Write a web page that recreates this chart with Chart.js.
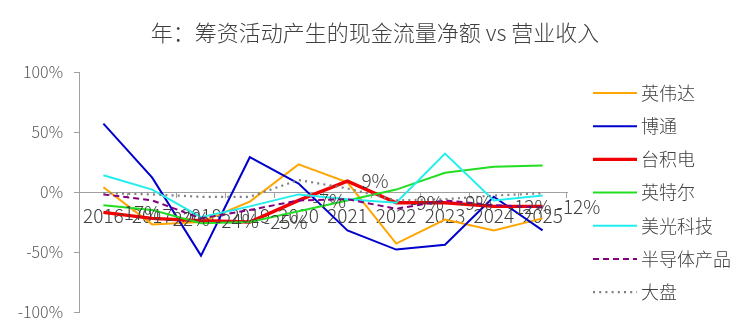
<!DOCTYPE html>
<html>
<head>
<meta charset="utf-8">
<script src="https://cdn.jsdelivr.net/npm/chart.js@4.4.1/dist/chart.umd.min.js"></script>
<style>
html,body{margin:0;padding:0;background:#fff;}
#wrap{width:750px;height:333px;position:relative;}
</style>
</head>
<body>
<div id="wrap"><canvas id="c" width="750" height="333"></canvas></div>
<script>
const TITLE = '年：筹资活动产生的现金流量净额 vs 营业收入';
const years = ['2016','2017','2018','2019','2020','2021','2022','2023','2024','2025'];
const nvidia   = [4, -27, -25, -8, 23, 8, -43, -23, -32, -22];
const broadcom = [57, 12, -53, 29, 7, -32, -48, -44, -4, -32];
const tsmc     = [-17, -22, -24, -25, -7, 9, -9, -9, -12, -12];
const intel    = [-11, -15, -26, -25, -16, -7, 2, 16, 21, 22];
const micron   = [14, 2, -21, -12, -2, -6, -9, 32, -7, -3];
const semis    = [-2, -7, -22, -15, -7, -6, -14, -7, -11, -13];
const market   = [-1, -2, -4, -4, 10, 3, -7, -6, -3, -1];
const yTicks = [-100, -50, 0, 50, 100];

const FONT = '"Noto Sans CJK SC", "Noto Sans", sans-serif';

const series = [
  {label:'英伟达', data:nvidia, color:'#FFA500', width:2, dash:[]},
  {label:'博通', data:broadcom, color:'#0000CD', width:2, dash:[]},
  {label:'台积电', data:tsmc, color:'#F00000', width:3.4, dash:[]},
  {label:'英特尔', data:intel, color:'#22DD22', width:2, dash:[]},
  {label:'美光科技', data:micron, color:'#22EEEE', width:2, dash:[]},
  {label:'半导体产品', data:semis, color:'#800080', width:2, dash:[6,4]},
  {label:'大盘', data:market, color:'#808080', width:2.2, dash:[2,4.2]}
];

const datasets = series.map((s,i)=>({
  label:s.label, data:s.data, borderColor:s.color, backgroundColor:s.color,
  borderWidth:s.width, borderDash:s.dash, pointRadius:0, tension:0, fill:false,
  order: 10 - i
}));

const labelPlugin = {
  id:'redLabels',
  afterDatasetsDraw(chart){
    const ctx = chart.ctx;
    const meta = chart.getDatasetMeta(2);
    ctx.save();
    ctx.font = '300 19px ' + FONT;
    ctx.fillStyle = '#404040';
    ctx.textAlign = 'left';
    ctx.textBaseline = 'middle';
    meta.data.forEach((pt, i)=>{
      const v = tsmc[i];
      ctx.fillText(Math.round(v) + '%', pt.x + 14, pt.y);
    });
    ctx.restore();
  }
};

const decoPlugin = {
  id:'deco',
  afterDraw(chart){
    const ctx = chart.ctx;
    ctx.save();
    // title
    ctx.font = '300 22px ' + FONT;
    ctx.fillStyle = '#404040';
    ctx.textAlign = 'center';
    ctx.textBaseline = 'middle';
    ctx.fillText(TITLE, 375, 33);
    // legend
    ctx.font = '300 18px ' + FONT;
    ctx.textAlign = 'left';
    chart.data.datasets.forEach((ds, i)=>{
      const y = 93 + i * 33.2;
      ctx.strokeStyle = ds.borderColor;
      ctx.lineWidth = ds.borderWidth;
      ctx.setLineDash(ds.borderDash || []);
      ctx.beginPath();
      ctx.moveTo(593, y);
      ctx.lineTo(637, y);
      ctx.stroke();
      ctx.setLineDash([]);
      ctx.fillStyle = '#404040';
      ctx.fillText(ds.label, 641, y);
    });
    ctx.restore();
  }
};

new Chart(document.getElementById('c'), {
  type:'line',
  data:{labels:years, datasets},
  options:{
    responsive:false,
    animation:false,
    devicePixelRatio:1,
    layout:{padding:{top:72, bottom:21, left:0, right:183}},
    plugins:{legend:{display:false}, title:{display:false}, tooltip:{enabled:false}},
    scales:{
      x:{
        position:{y:0},
        offset:true,
        grid:{display:true, drawOnChartArea:false, drawTicks:true, tickLength:5, color:'#a0a0a0', offset:true},
        border:{display:true, color:'#a0a0a0', width:1},
        ticks:{font:{family:FONT, size:19, weight:'300'}, color:'#404040', padding:7, maxRotation:0, autoSkip:false}
      },
      y:{
        min:-100, max:100,
        afterBuildTicks(scale){ scale.ticks = yTicks.map(v=>({value:v})); },
        afterFit(scale){ scale.width = 79; },
        grid:{display:true, drawOnChartArea:false, drawTicks:true, tickLength:5, color:'#a0a0a0'},
        border:{display:true, color:'#a0a0a0', width:1},
        ticks:{font:{family:FONT, size:16, weight:'300'}, color:'#595959', padding:11, callback:v=>v+'%'}
      }
    }
  },
  plugins:[labelPlugin, decoPlugin]
});
</script>
</body>
</html>
